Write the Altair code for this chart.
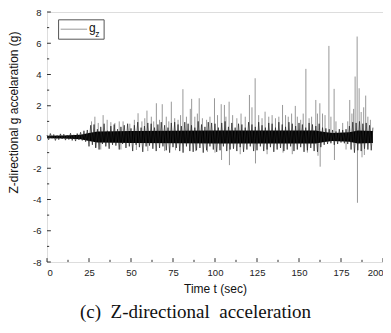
import altair as alt
import pandas as pd

# dense oscillation of the trace, one value per second (0..194 s), read as envelope
core_vals = [
    0.12, -0.18, 0.22, -0.08, 0.16, -0.22, 0.10, -0.17, 0.20, -0.12,
    0.18, -0.20, 0.12, -0.16, 0.24, -0.22, 0.14, -0.26, 0.22, -0.18,
    0.30, -0.22, 0.40, -0.30, 0.45, -0.60, 0.75, -0.50, 0.80, -0.70,
    0.50, -0.80, 0.65, -0.45, 0.85, -0.60, 0.40, -0.75, 0.70, -0.50,
    0.80, -0.55, 0.50, -0.80, 0.65, -0.45, 0.75, -0.70, 0.85, -0.60,
    0.55, -0.90, 0.75, -0.50, 0.95, -0.65, 0.60, -0.95, 0.70, -0.60,
    0.90, -0.55, 0.85, -0.75, 0.60, -0.90, 0.80, -0.70, 0.95, -0.60,
    0.75, -0.85, 0.60, -1.00, 0.90, -0.65, 0.95, -0.70, 0.80, -0.90,
    0.70, -1.00, 0.95, -0.60, 0.85, -0.90, 0.75, -0.95, 0.60, -0.85,
    1.00, -0.70, 0.80, -1.00, 0.65, -0.85, 0.95, -0.60, 0.90, -0.80,
    0.85, -0.95, 0.60, -0.85, 0.90, -0.60, 1.00, -0.90, 0.65, -0.80,
    0.90, -0.75, 0.60, -0.90, 0.85, -0.65, 0.80, -0.95, 0.60, -0.80,
    0.95, -0.60, 0.80, -0.90, 0.65, -0.85, 0.95, -0.60, 0.75, -0.90,
    0.60, -0.80, 0.90, -0.65, 0.85, -0.95, 0.60, -0.80, 0.95, -0.70,
    0.80, -0.90, 0.65, -0.80, 0.95, -0.60, 0.85, -0.90, 0.70, -0.80,
    0.90, -0.65, 0.80, -0.95, 0.60, -0.85, 0.90, -0.70, 0.80, -0.90,
    0.70, -0.95, 0.85, -0.65, 0.60, -0.50, 0.55, -0.45, 0.50, -0.40,
    0.45, -0.50, 0.35, -0.45, 0.50, -0.35, 0.45, -0.40, 0.50, -0.45,
    0.70, -0.80, 0.95, -1.00, 0.90, -0.85, 1.00, -0.90, 0.85, -0.75,
    0.90, -0.80, 0.75, -0.85, 0.60,
]
core_t = list(range(len(core_vals)))

# solid dark centre of the trace (envelope read at a few times)
band_t = [0, 10, 20, 25, 30, 50, 100, 160, 165, 170, 180, 185, 194]
band_hi = [0.08, 0.10, 0.15, 0.25, 0.35, 0.38, 0.42, 0.42, 0.32, 0.26, 0.30, 0.42, 0.38]
band_lo = [-0.08, -0.10, -0.15, -0.25, -0.35, -0.38, -0.42, -0.42, -0.32, -0.26, -0.30, -0.42, -0.38]

# isolated spikes (time in s, peak in g)
spike_t = [
    26.5, 28.5, 30.5, 33.4, 35.8, 38.0, 40.4, 43.0, 45.3, 49.3,
    52.0, 54.2, 56.5, 58.2, 59.5, 62.1, 63.5, 65.1, 67.0, 68.6,
    71.0, 72.5, 74.0, 76.0, 78.0, 79.5, 80.9, 83.0, 85.3, 86.1,
    88.0, 89.5, 90.6, 92.5, 95.0, 97.0, 99.7, 101.5, 103.7, 105.6,
    106.5, 108.4, 110.5, 113.0, 115.5, 118.0, 120.5, 122.0, 123.9, 126.0,
    128.0, 129.8, 132.0, 134.0, 136.0, 138.0, 140.2, 142.0, 143.6, 145.6,
    147.8, 149.0, 151.0, 152.5, 154.1, 156.0, 157.5, 160.0, 161.0, 162.4,
    164.0, 165.5, 167.8, 169.0, 170.9, 172.0, 176.0, 179.0, 180.2, 181.5,
    182.5, 183.4, 184.6, 185.8, 187.0, 188.5, 189.7, 191.0, 192.5,
    29.0, 32.0, 44.0, 53.2, 60.0, 70.0, 76.5, 88.5, 95.5, 100.0,
    103.9, 108.6, 115.0, 124.1, 131.0, 140.5, 146.0, 155.0, 161.3, 162.6,
    171.1, 178.0, 184.8, 187.5, 188.9,
]
spike_g = [
    1.00, 1.30, 0.90, 1.40, 1.10, 0.95, 0.90, 1.00, 1.00, 0.85,
    1.10, 1.52, 1.00, 1.20, 1.69, 1.30, 1.00, 2.16, 1.10, 2.10,
    1.30, 1.00, 2.26, 1.20, 1.10, 1.40, 3.06, 1.30, 1.80, 2.44,
    1.30, 1.50, 2.48, 1.20, 1.10, 1.30, 2.48, 1.40, 2.10, 2.05,
    1.30, 2.26, 1.40, 1.20, 1.50, 1.30, 2.69, 1.90, 3.76, 1.40,
    1.20, 1.62, 1.30, 1.40, 1.20, 1.30, 2.05, 1.40, 1.30, 1.50,
    1.99, 1.30, 1.10, 1.50, 4.36, 1.20, 1.30, 2.37, 1.50, 2.16,
    1.50, 1.40, 5.83, 1.30, 3.08, 1.00, 0.90, 1.00, 2.37, 1.50,
    1.80, 3.87, 6.43, 3.12, 1.60, 1.90, 2.65, 1.30, 1.10,
    -0.66, -0.80, -0.80, -0.83, -0.90, -0.90, -0.85, -0.90, -0.95, -1.00,
    -1.47, -1.80, -1.10, -1.69, -1.10, -1.00, -1.10, -1.00, -1.20, -1.90,
    -1.47, -0.80, -4.21, -1.30, -1.15,
]

x_major = [0, 25, 50, 75, 100, 125, 150, 175, 200]
x_minor = [12.5, 37.5, 62.5, 87.5, 112.5, 137.5, 162.5, 187.5]
y_major = [-8, -6, -4, -2, 0, 2, 4, 6, 8]
y_minor = [-7, -5, -3, -1, 1, 3, 5, 7]

legend_label = "g"
legend_sub = "z"

core_df = pd.DataFrame({"t": core_t, "g": core_vals})
band_df = pd.DataFrame({"t": band_t, "hi": band_hi, "lo": band_lo})
spike_df = pd.DataFrame({"t": spike_t, "g": spike_g, "base": [0.0] * len(spike_t)})

xs = alt.Scale(domain=[0, 200], nice=False, zero=False)
ys = alt.Scale(domain=[-8, 8], nice=False, zero=False)

FONT = "Liberation Sans"

x_axis = alt.Axis(values=x_major, format="d", ticks=False, domain=False, grid=False,
                  labelFont=FONT, labelFontSize=9.5, labelColor="#222", labelPadding=5,
                  labelOverlap=False, tickCount=9,
                  title="Time t (sec)", titleFont=FONT, titleFontSize=12,
                  titleFontWeight="normal", titleColor="#111", titlePadding=7)
y_axis = alt.Axis(values=y_major, ticks=False, domain=False, grid=False,
                  labelExpr="datum.value < 0 ? '-' + abs(datum.value) : '' + datum.value",
                  labelFont=FONT, labelFontSize=9.5, labelColor="#222", labelPadding=6,
                  labelOverlap=False, tickCount=9,
                  title="Z-directional g accelaration (g)", titleFont=FONT, titleFontSize=12,
                  titleFontWeight="normal", titleColor="#111", titleX=-29.5, titleY=100,
                  titleBaseline="alphabetic")


def X(field):
    return alt.X(field, scale=xs, axis=x_axis)


def Y(field):
    return alt.Y(field, scale=ys, axis=y_axis)


spikes = alt.Chart(spike_df).mark_rule(color="#8c8c8c", strokeWidth=0.9).encode(
    x=X("t:Q"), y=Y("g:Q"), y2="base:Q")

band = alt.Chart(band_df).mark_area(color="#000", opacity=1).encode(
    x=X("t:Q"), y=Y("hi:Q"), y2="lo:Q")

core = alt.Chart(core_df).mark_line(color="#222", strokeWidth=0.7).encode(
    x=X("t:Q"), y=Y("g:Q"))

# inward axis ticks
ytick_df = pd.DataFrame({"v": y_major + y_minor,
                         "x0": [0.0] * (len(y_major) + len(y_minor)),
                         "len": [2.3] * len(y_major) + [1.3] * len(y_minor)})
yticks = alt.Chart(ytick_df).mark_rule(color="#333", strokeWidth=1).encode(
    y=Y("v:Q"), x=X("x0:Q"), x2="len:Q")
xtick_df = pd.DataFrame({"v": x_major + x_minor,
                         "y0": [-8.0] * (len(x_major) + len(x_minor)),
                         "top": [-7.75] * len(x_major) + [-7.86] * len(x_minor)})
xticks = alt.Chart(xtick_df).mark_rule(color="#333", strokeWidth=1).encode(
    x=X("v:Q"), y=Y("y0:Q"), y2="top:Q")

# legend box
leg_box_df = pd.DataFrame({"x1": [6.9], "x2": [34.0], "y1": [7.5], "y2": [6.26]})
leg_box = alt.Chart(leg_box_df).mark_rect(fill="white", stroke="#555", strokeWidth=1).encode(
    x=X("x1:Q"), x2="x2:Q", y=Y("y1:Q"), y2="y2:Q")
leg_line_df = pd.DataFrame({"x1": [8.1], "x2": [23.9], "y": [6.9]})
leg_line = alt.Chart(leg_line_df).mark_rule(color="#999", strokeWidth=1).encode(
    x=X("x1:Q"), x2="x2:Q", y=Y("y:Q"))
leg_txt_df = pd.DataFrame({"x": [25.0], "y": [6.73], "s": [legend_label]})
leg_txt = alt.Chart(leg_txt_df).mark_text(align="left", baseline="alphabetic", font=FONT,
                                          fontSize=12, color="#111").encode(
    x=X("x:Q"), y=Y("y:Q"), text="s:N")
leg_sub_df = pd.DataFrame({"x": [28.7], "y": [6.41], "s": [legend_sub]})
leg_sub = alt.Chart(leg_sub_df).mark_text(align="left", baseline="alphabetic", font=FONT,
                                          fontSize=8.5, color="#111").encode(
    x=X("x:Q"), y=Y("y:Q"), text="s:N")

chart = alt.layer(spikes, band, core, yticks, xticks, leg_box, leg_line, leg_txt, leg_sub).properties(
    width=336, height=250,
    autosize=alt.AutoSizeParams(type="none"),
    padding={"left": 39, "top": 4, "right": 0, "bottom": 63},
    title=alt.TitleParams(text="(c)\u00a0 Z-directional\u00a0 acceleration", orient="bottom",
                          anchor="middle", frame="bounds", font="Liberation Serif",
                          fontSize=19, fontWeight="normal", color="#111", offset=8),
).configure_view(stroke="#666", strokeWidth=1.5).configure(background="white")

chart.save("out.html", embed_options={"renderer": "svg", "actions": False})
